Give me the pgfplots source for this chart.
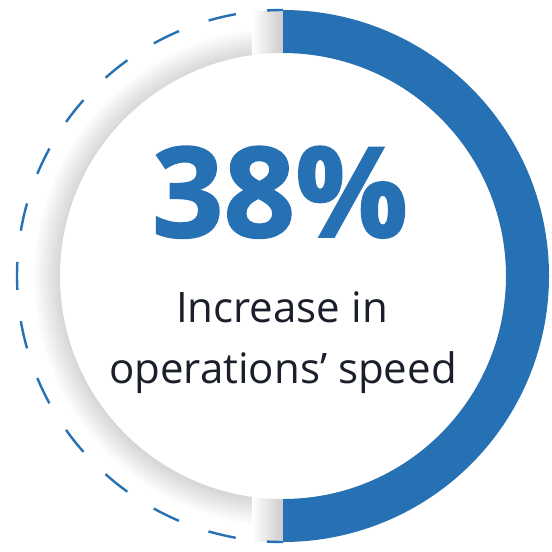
\documentclass[border=0pt]{standalone}
\usepackage{pgfplots}
\usepackage{pgfplotstable}
\pgfplotsset{compat=1.18}
\usepackage{fontspec}
\setmainfont{Open Sans}

\definecolor{ringblue}{RGB}{38,113,180}
\definecolor{ink}{RGB}{27,31,43}

% share of the ring that is filled (percent) and the headline number
\pgfplotstableread{
part share
done 50
rest 50
}\ringdata
\pgfplotstablegetelem{0}{share}\of\ringdata
\pgfmathsetmacro\endang{90-3.6*\pgfplotsretval}
\pgfmathsetmacro\restang{90+3.6*(100-\pgfplotsretval)}

\begin{document}
\begin{tikzpicture}
\begin{axis}[
  scale only axis, width=414pt, height=413.25pt,
  xmin=0, xmax=552, ymin=0, ymax=551, y dir=reverse,
  hide axis, clip=false]
  \fill[white] (axis cs:0,0) rectangle (axis cs:552,551);
  % soft shadow round the inner disc
  \pgfplotsinvokeforeach{167.25,168.75,...,186}{
    \fill[black, opacity=0.012] (axis cs:283,277) circle[radius=#1pt];
  }
  % shadows at both ends of the blue ring
  \shade[left color=white, right color=black!20] (axis cs:252,11) rectangle (axis cs:283,55);
  \shade[left color=white, right color=black!20] (axis cs:252,497) rectangle (axis cs:283,541);
  % inner disc
  \fill[white] (axis cs:283,276) circle[radius=167.25pt];
  % filled part of the ring
  \fill[ringblue] (axis cs:283,10) arc[start angle=90, end angle=\endang, radius=199.5pt]
     -- (axis cs:283,499) arc[start angle=\endang, end angle=90, radius=167.25pt] -- cycle;
  % dashed remainder
  \draw[ringblue, line width=1.8pt, dash pattern=on 21pt off 23.55pt, dash phase=9pt]
     (axis cs:283,10) arc[start angle=90, end angle=\restang, radius=199.5pt];
  % texts
  \node[anchor=base, text=ringblue, font=\fontsize{94}{94}\selectfont\bfseries\addfontfeatures{FakeBold=1.5}, inner sep=0pt]
     at (axis cs:280,237) {38\%};
  \node[anchor=base, text=ink, font=\fontsize{31.5}{36}\selectfont, inner sep=0pt]
     at (axis cs:282,322) {Increase in};
  \node[anchor=base, text=ink, font=\fontsize{31.5}{36}\selectfont, inner sep=0pt]
     at (axis cs:283,383) {operations’ speed};
\end{axis}
\end{tikzpicture}
\end{document}
